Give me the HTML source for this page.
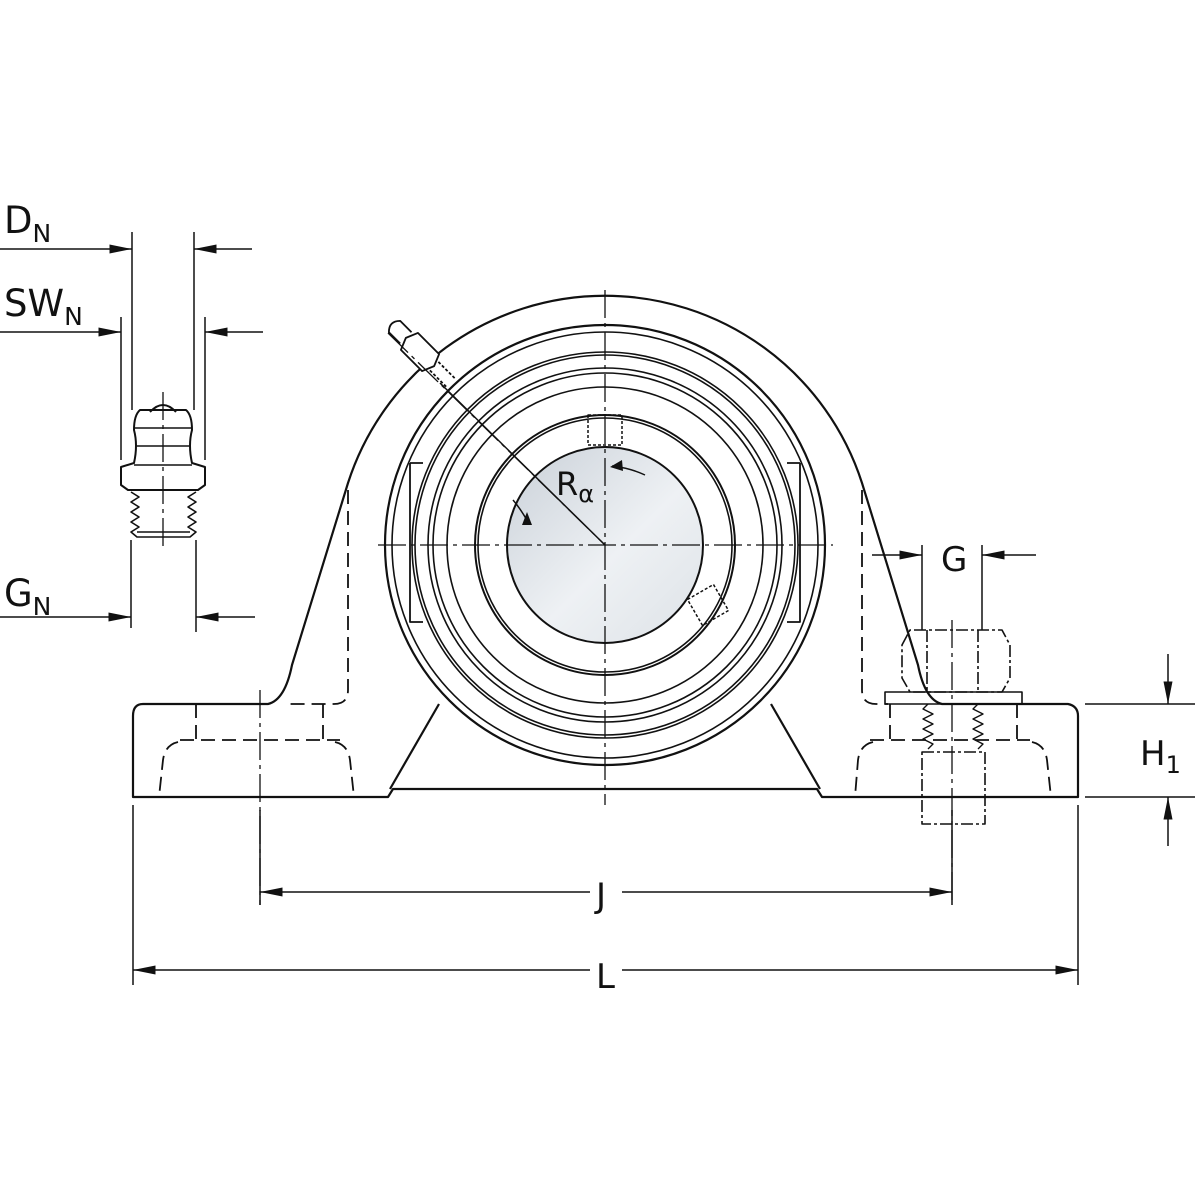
<!DOCTYPE html>
<html><head><meta charset="utf-8"><style>
html,body{margin:0;padding:0;background:#fff}
svg{display:block}
text{font-family:"DejaVu Sans","Liberation Sans",sans-serif;fill:#111}
</style></head><body>
<svg width="1200" height="1200" viewBox="0 0 1200 1200" xmlns="http://www.w3.org/2000/svg">
<defs>
<marker id="a" viewBox="0 0 10 4" refX="10" refY="2" markerWidth="28" markerHeight="9" markerUnits="userSpaceOnUse" orient="auto"><path d="M0,0 L10,2 L0,4 Z" fill="#111"/></marker>
<linearGradient id="g" x1="0" y1="0" x2="1" y2="1"><stop offset="0" stop-color="#c9d0d8"/><stop offset="0.55" stop-color="#eef1f4"/><stop offset="1" stop-color="#dde2e7"/></linearGradient>
</defs>
<g fill="none" stroke="#111" stroke-width="2.2" stroke-linejoin="round">
<path d="M143,704 L268,704 Q285,700 292,665 L348,483 A270,270 0 0 1 862,483 L918,665 Q925,700 942,704 L1068,704 Q1078,706 1078,716 L1078,797 L822,797 L817,789 L393,789 L388,797 L133,797 L133,716 Q133,704 143,704 Z"/>
<line x1="390" y1="789" x2="439" y2="704"/>
<line x1="820" y1="789" x2="771" y2="704"/>
<circle cx="605" cy="545" r="220"/>
<circle cx="605" cy="545" r="213" stroke-width="1.6"/>
<circle cx="605" cy="545" r="193" stroke-width="1.6"/>
<circle cx="605" cy="545" r="190" stroke-width="1.6"/>
<circle cx="605" cy="545" r="177" stroke-width="1.6"/>
<circle cx="605" cy="545" r="172" stroke-width="1.6"/>
<circle cx="605" cy="545" r="158" stroke-width="1.6"/>
<circle cx="605" cy="545" r="130" stroke-width="2"/>
<circle cx="605" cy="545" r="127" stroke-width="1.6"/>
<circle cx="605" cy="545" r="98" fill="url(#g)" stroke-width="2"/>
<path d="M410,463 L423,463 M410,463 L410,622 L423,622" stroke-width="1.8"/>
<path d="M800,463 L787,463 M800,463 L800,622 L787,622" stroke-width="1.8"/>
<rect x="588" y="415" width="34" height="30" stroke-width="1.5" stroke-dasharray="3,2"/>
<g transform="rotate(-30 708 605)"><rect x="693" y="590" width="30" height="30" stroke-width="1.5" stroke-dasharray="3,2"/></g>
<g stroke-dasharray="14,7" stroke-width="1.8">
<path d="M348,490 L348,690 Q348,704 334,704 L290,704"/>
<path d="M196,704 L196,740 M323,704 L323,740 M180,740 L340,740"/>
<path d="M178,742 Q165,745 163,760 L159,797 M335,742 Q348,745 350,760 L354,797"/>
<path d="M862,490 L862,690 Q862,704 876,704 L888,704"/>
<path d="M890,704 L890,740 M1017,704 L1017,740 M870,740 L1030,740"/>
<path d="M873,742 Q860,745 858,760 L855,797 M1032,742 Q1045,745 1047,760 L1051,797"/>
</g>
<g stroke-width="1.6" stroke-dasharray="12,3,3,3">
<path d="M902,645 L910,630 L1002,630 L1010,645 L1010,678 L1002,692 L910,692 L902,678 Z"/>
<line x1="927" y1="630" x2="927" y2="692"/><line x1="978" y1="630" x2="978" y2="692"/>
<rect x="922" y="752" width="63" height="72"/>
</g>
<rect x="885" y="692" width="137" height="12" stroke-width="1.6"/>
<path d="M928,704 l-5,5 l10,5 l-10,5 l10,5 l-10,5 l10,5 l-10,5 l10,5 l-5,5 M978,704 l-5,5 l10,5 l-10,5 l10,5 l-10,5 l10,5 l-10,5 l10,5 l-5,5" stroke-width="1.4"/>
<g transform="rotate(45 420 352)" stroke-width="1.8">
<path d="M405,340 L435,340 L440,352 L435,364 L405,364 L400,352 Z" fill="#fff"/>
<path d="M400,344 L384,344 Q376,352 384,360 L400,360"/>
<path d="M440,346 L465,346 M440,358 L465,358" stroke-dasharray="3,2"/>
</g>
<g stroke-width="1.3" stroke-dasharray="28,5,4,5">
<line x1="605" y1="290" x2="605" y2="805"/>
<line x1="378" y1="545" x2="833" y2="545"/>
<line x1="260" y1="690" x2="260" y2="905"/>
<line x1="952" y1="620" x2="952" y2="905"/>
<line x1="163" y1="392" x2="163" y2="548"/>
<line x1="388" y1="333" x2="605" y2="545"/>
</g>
<line x1="440" y1="383" x2="605" y2="545" stroke-width="1.5"/>
<path d="M528,522 Q520,508 513,500" stroke-width="1.5"/>
<path d="M612,466 Q630,468 645,475" stroke-width="1.5"/>
<path d="M532,525 L522,525 L527,512 Z M610,467 L622,460 L623,471 Z" fill="#111" stroke="none"/>
<g stroke-width="2">
<path d="M150,412 Q163,398 176,412"/>
<path d="M140,410 L186,410 Q192,415 192,430 Q188,445 192,463 L205,467 L205,485 L198,490 L128,490 L121,485 L121,467 L134,463 Q138,445 134,430 Q134,415 140,410 Z"/>
<line x1="134" y1="428" x2="192" y2="428" stroke-width="1.4"/>
<line x1="137" y1="446" x2="189" y2="446" stroke-width="1.4"/>
<line x1="134" y1="465" x2="192" y2="465" stroke-width="1.4"/>
<path d="M131,492 l8,5 l-8,5 l8,5 l-8,5 l8,5 l-8,5 l8,5 l-8,5 l6,5 L190,537 l6,-5 l-8,-5 l8,-5 l-8,-5 l8,-5 l-8,-5 l8,-5 l-8,-5 l8,-5" stroke-width="1.6"/>
<line x1="137" y1="532" x2="190" y2="532" stroke-width="1.4"/>
</g>
<g stroke-width="1.5">
<line x1="132" y1="232" x2="132" y2="410"/><line x1="194" y1="232" x2="194" y2="410"/>
<line x1="0" y1="249" x2="132" y2="249" marker-end="url(#a)"/><line x1="252" y1="249" x2="194" y2="249" marker-end="url(#a)"/>
<line x1="121" y1="317" x2="121" y2="460"/><line x1="205" y1="317" x2="205" y2="460"/>
<line x1="0" y1="332" x2="121" y2="332" marker-end="url(#a)"/><line x1="263" y1="332" x2="205" y2="332" marker-end="url(#a)"/>
<line x1="131" y1="540" x2="131" y2="628"/><line x1="196" y1="540" x2="196" y2="632"/>
<line x1="0" y1="617" x2="131" y2="617" marker-end="url(#a)"/><line x1="255" y1="617" x2="196" y2="617" marker-end="url(#a)"/>
<line x1="922" y1="545" x2="922" y2="630"/><line x1="982" y1="545" x2="982" y2="630"/>
<line x1="872" y1="555" x2="922" y2="555" marker-end="url(#a)"/><line x1="1036" y1="555" x2="982" y2="555" marker-end="url(#a)"/>
<line x1="1085" y1="704" x2="1195" y2="704"/><line x1="1085" y1="797" x2="1195" y2="797"/>
<line x1="1168" y1="654" x2="1168" y2="704" marker-end="url(#a)"/><line x1="1168" y1="846" x2="1168" y2="797" marker-end="url(#a)"/>
<line x1="260" y1="810" x2="260" y2="905"/><line x1="952" y1="810" x2="952" y2="905"/>
<line x1="133" y1="805" x2="133" y2="985"/><line x1="1078" y1="805" x2="1078" y2="985"/>
<line x1="590" y1="892" x2="260" y2="892" marker-end="url(#a)"/><line x1="622" y1="892" x2="952" y2="892" marker-end="url(#a)"/>
<line x1="590" y1="970" x2="133" y2="970" marker-end="url(#a)"/><line x1="622" y1="970" x2="1078" y2="970" marker-end="url(#a)"/>
</g>
</g>
<text x="4" y="233" font-size="37">D<tspan font-size="25" dy="9">N</tspan></text>
<text x="4" y="316" font-size="37">SW<tspan font-size="25" dy="9">N</tspan></text>
<text x="4" y="606" font-size="37">G<tspan font-size="25" dy="9">N</tspan></text>
<text x="941" y="571" font-size="34">G</text>
<text x="1140" y="765" font-size="34">H<tspan font-size="24" dy="8">1</tspan></text>
<text x="596" y="907" font-size="34">J</text>
<text x="596" y="988" font-size="34">L</text>
<text x="556" y="495" font-size="32">R<tspan font-size="24" dy="7">α</tspan></text>
</svg>
</body></html>
